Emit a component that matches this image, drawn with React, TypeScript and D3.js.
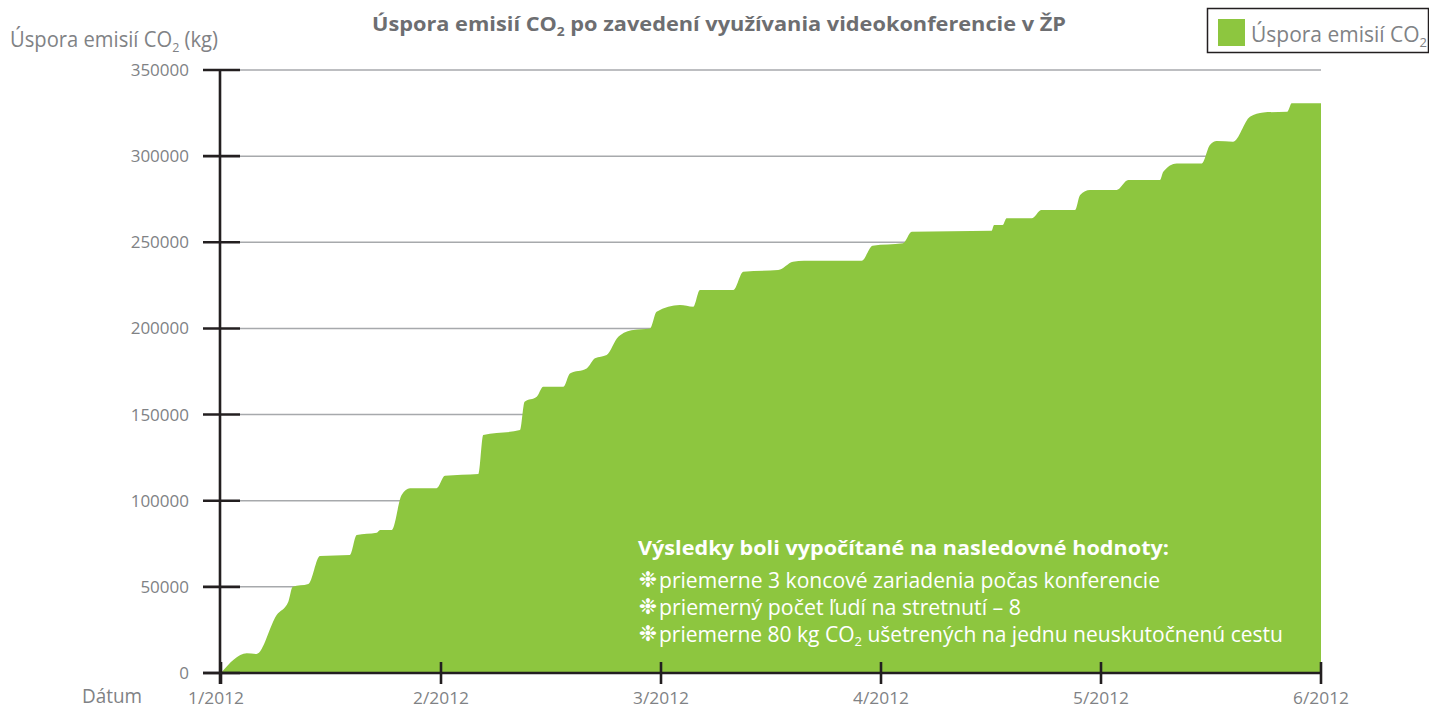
import React from "react";
import * as d3 from "d3";

const monthLabels = ["1/2012", "2/2012", "3/2012", "4/2012", "5/2012", "6/2012"];
const yTicks = [0, 50000, 100000, 150000, 200000, 250000, 300000, 350000];

// position in months since 1/2012
const monthPos = [
  0, 0.117, 0.162, 0.253, 0.306, 0.326, 0.397, 0.45, 0.586, 0.617, 0.708, 0.723, 0.776,
  0.821, 0.859, 0.98, 1.018, 1.17, 1.192, 1.359, 1.38, 1.435, 1.465, 1.556, 1.586, 1.662,
  1.7, 1.753, 1.806, 1.874, 1.95, 1.98, 2.086, 2.147, 2.177, 2.329, 2.374, 2.533, 2.6, 2.65,
  2.912, 2.962, 3.1, 3.14, 3.503, 3.514, 3.553, 3.571, 3.685, 3.73, 3.882, 3.905, 3.95,
  4.071, 4.124, 4.268, 4.283, 4.344, 4.458, 4.495, 4.526, 4.6, 4.677, 4.738, 4.847, 4.867, 5.0,
];
const savings = [
  0, 11400, 11000, 33600, 41400, 50100, 51600, 67900, 68500, 80100, 81400, 83000, 83000,
  103300, 107200, 107300, 114500, 115500, 138100, 141000, 157500, 160400, 166200, 166200, 173900, 176800,
  182700, 184600, 195200, 199100, 200000, 209700, 213600, 212600, 222300, 222300, 232900, 233900, 238700, 239300,
  239300, 248000, 249400, 256100, 256700, 260000, 260000, 263900, 263900, 268700, 268700, 277400, 280300,
  280300, 286100, 286100, 290900, 295800, 295800, 306500, 308800, 308400, 322900, 325400, 325800, 330700, 330700,
];

const notes = [
  "priemerne 3 koncové zariadenia počas konferencie",
  "priemerný počet ľudí na stretnutí – 8",
];

export default function App() {
  const W = 1429, H = 709;
  const x = d3.scaleLinear().domain([0, 5]).range([221, 1321]);
  const y = d3.scaleLinear().domain([0, 350000]).range([673, 70]);
  const pts = monthPos.map((m, i) => [m, savings[i]] as [number, number]);
  const area = d3
    .area<[number, number]>()
    .x((d) => x(d[0]))
    .y0(y(0))
    .y1((d) => y(d[1]))
    .curve(d3.curveMonotoneX);

  const axisColor = "#231f20";
  const textGray = "#808285";
  const font = "'Open Sans', sans-serif";

  return (
    <svg width={W} height={H} style={{ position: "absolute", left: 0, top: 0, background: "#fff" }} fontFamily={font}>
      {/* grid */}
      {yTicks.filter((t) => t > 0).map((t) => (
        <line key={t} x1={240} x2={1321} y1={y(t)} y2={y(t)} stroke="#a7a9ac" strokeWidth={1.5} />
      ))}
      {/* area */}
      <path d={area(pts) || ""} fill="#8dc63f" />
      {/* axes */}
      <line x1={220} x2={220} y1={y(350000)} y2={684} stroke={axisColor} strokeWidth={2.6} />
      <line x1={203} x2={1322} y1={y(0)} y2={y(0)} stroke={axisColor} strokeWidth={2.6} />
      {yTicks.map((t) => (
        <g key={t}>
          <line x1={203} x2={240} y1={y(t)} y2={y(t)} stroke={axisColor} strokeWidth={2.6} />
          <text x={189} y={y(t) + 6} textAnchor="end" fontSize={17} fill={textGray}>
            {t}
          </text>
        </g>
      ))}
      {monthLabels.map((l, i) => (
        <g key={l}>
          <line x1={x(i)} x2={x(i)} y1={662} y2={684} stroke={axisColor} strokeWidth={2.6} />
          <text x={x(i) - (i === 0 ? 5 : 0)} y={704} textAnchor="middle" fontSize={16.5} fill={textGray}
            textLength={56} lengthAdjust="spacingAndGlyphs">
            {l}
          </text>
        </g>
      ))}
      <text x={82} y={703} fontSize={20} fill={textGray} textLength={60} lengthAdjust="spacingAndGlyphs">Dátum</text>

      {/* y label */}
      <text x={10} y={47} fontSize={21} fill={textGray} textLength={208} lengthAdjust="spacingAndGlyphs">
        Úspora emisií CO<tspan fontSize={13} dy={5}>2</tspan><tspan dy={-5}> (kg)</tspan>
      </text>

      {/* title */}
      <text x={372} y={31} fontSize={19} fontWeight={700} fill="#6d6e71" textLength={694} lengthAdjust="spacingAndGlyphs">
        Úspora emisií CO<tspan fontSize={12} dy={5}>2</tspan><tspan dy={-5}> po zavedení využívania videokonferencie v ŽP</tspan>
      </text>

      {/* legend */}
      <rect x={1207.5} y={8.5} width={221} height={44} fill="#fff" stroke={axisColor} strokeWidth={1.5} />
      <rect x={1218} y={19} width={27} height={27} fill="#8dc63f" />
      <text x={1251} y={42} fontSize={21} fill={textGray} textLength={176} lengthAdjust="spacingAndGlyphs">
        Úspora emisií CO<tspan fontSize={13} dy={5}>2</tspan>
      </text>

      {/* annotation */}
      <text x={638} y={555} fontSize={20} fontWeight={700} fill="#fff" textLength={531} lengthAdjust="spacingAndGlyphs">
        Výsledky boli vypočítané na nasledovné hodnoty:
      </text>
      {[0, 1, 2].map((i) => (
        <text key={i} x={648} y={587 + i * 27} fontSize={22} fontWeight={700} textAnchor="middle" fill="#fff"
          fontFamily="'DejaVu Sans', sans-serif">
          ❉
        </text>
      ))}
      <text x={659} y={587.5} fontSize={21} fill="#fff" textLength={501} lengthAdjust="spacingAndGlyphs">
        {notes[0]}
      </text>
      <text x={659} y={614.5} fontSize={21} fill="#fff" textLength={362} lengthAdjust="spacingAndGlyphs">
        {notes[1]}
      </text>
      <text x={659} y={641.5} fontSize={21} fill="#fff" textLength={624} lengthAdjust="spacingAndGlyphs">
        priemerne 80 kg CO<tspan fontSize={13} dy={4}>2</tspan><tspan dy={-4}> ušetrených na jednu neuskutočnenú cestu</tspan>
      </text>
    </svg>
  );
}
